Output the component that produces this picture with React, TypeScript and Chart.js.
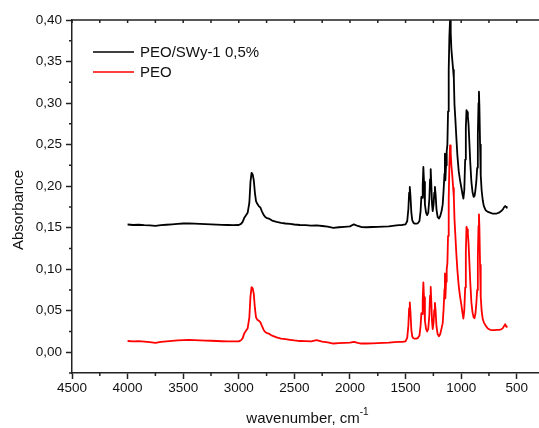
import React, { useEffect, useRef } from "react";
import { Chart, registerables } from "chart.js";

Chart.register(...registerables);

// ---- data ----
const wavenumbers: number[] = [
  4000, 3950, 3900, 3850, 3800, 3750, 3700, 3650, 3600, 3550,
  3500, 3450, 3400, 3350, 3300, 3250, 3200, 3150, 3100, 3050,
  3000,
  2980, 2965, 2950, 2935, 2920, 2905, 2895, 2885, 2875, 2865,
  2855, 2845, 2835, 2820, 2805, 2790, 2775, 2760, 2745, 2730,
  2715, 2700,
  2660, 2620, 2580, 2540, 2500, 2450, 2400, 2350, 2300, 2250,
  2200, 2150, 2100, 2050, 2000, 1965, 1930, 1900, 1850, 1800,
  1750, 1700, 1650, 1600, 1560,
  1530, 1500, 1485, 1475, 1468, 1462, 1456, 1448, 1440, 1430,
  1420, 1405, 1390, 1375, 1365, 1358, 1352, 1346, 1340, 1334,
  1326, 1316, 1306, 1296, 1286, 1280, 1274, 1268, 1262, 1256,
  1248, 1242, 1236, 1230, 1222, 1212, 1200, 1188, 1176, 1166,
  1158, 1150, 1146, 1142, 1136, 1130, 1124, 1118, 1112, 1106,
  1100, 1094, 1088, 1080, 1072, 1066, 1060, 1052, 1044, 1034,
  1022, 1010, 998, 988, 980, 972, 964, 958, 952, 946,
  940, 934, 926, 918, 908, 898, 888, 880, 872, 864,
  856, 850, 844, 840, 836, 830, 824, 816, 806, 796,
  780, 760, 740, 720, 700, 680, 660, 640, 625, 612,
  604, 596, 590,
];

const absPeoClay: number[] = [
  0.1538, 0.1532, 0.1535, 0.153, 0.1528, 0.1522, 0.153, 0.1535, 0.154, 0.1545,
  0.155, 0.1552, 0.1548, 0.1545, 0.1542, 0.154, 0.1536, 0.1533, 0.1532, 0.153,
  0.1532,
  0.1545, 0.157, 0.162, 0.165, 0.168, 0.18, 0.205, 0.216, 0.214, 0.207,
  0.192, 0.182, 0.179, 0.176, 0.174, 0.169, 0.165, 0.1625, 0.1615, 0.161,
  0.1598, 0.1585,
  0.157, 0.1558, 0.155, 0.1545, 0.1538, 0.1532, 0.153, 0.1525, 0.1528, 0.152,
  0.1512, 0.1498, 0.1505, 0.151, 0.1515, 0.154, 0.152, 0.1508, 0.1505, 0.1508,
  0.151, 0.1512, 0.1515, 0.1525, 0.153,
  0.1532, 0.154, 0.158, 0.172, 0.192, 0.199, 0.188, 0.168, 0.159, 0.156,
  0.155, 0.1548, 0.1552, 0.158, 0.17, 0.187, 0.186, 0.2, 0.223, 0.205,
  0.178, 0.168, 0.165, 0.168, 0.185, 0.208, 0.2205, 0.2, 0.178, 0.17,
  0.178, 0.192, 0.199, 0.19, 0.172, 0.163, 0.161, 0.164, 0.17, 0.178,
  0.195, 0.215, 0.239, 0.207, 0.225, 0.242, 0.25, 0.29, 0.34, 0.38,
  0.4, 0.385, 0.365, 0.352, 0.34, 0.33, 0.298, 0.28, 0.26, 0.237,
  0.218, 0.207, 0.198, 0.19, 0.185, 0.195, 0.232, 0.27, 0.2916, 0.289,
  0.284, 0.275, 0.252, 0.228, 0.205, 0.193, 0.187, 0.188, 0.195, 0.205,
  0.222, 0.262, 0.3, 0.3136, 0.296, 0.25, 0.213, 0.195, 0.183, 0.176,
  0.171, 0.169, 0.168, 0.167, 0.167, 0.167, 0.168, 0.17, 0.172, 0.175,
  0.176, 0.175, 0.174,
];

const absPeo: number[] = [
  0.0135, 0.013, 0.0133, 0.0128, 0.0122, 0.0112, 0.0125, 0.013, 0.0136, 0.0142,
  0.0147, 0.015, 0.0146, 0.0143, 0.014, 0.0138, 0.0135, 0.0132, 0.013, 0.013,
  0.0131,
  0.0145, 0.017, 0.023, 0.026, 0.029, 0.042, 0.067, 0.0785, 0.077, 0.07,
  0.053, 0.042, 0.0395, 0.038, 0.036, 0.031, 0.0265, 0.024, 0.023, 0.0225,
  0.021, 0.02,
  0.0178, 0.0165, 0.0158, 0.015, 0.0142, 0.0135, 0.0133, 0.013, 0.0145, 0.0128,
  0.0118, 0.0105, 0.011, 0.0112, 0.0115, 0.0125, 0.0112, 0.0105, 0.0105, 0.0107,
  0.011, 0.0112, 0.0115, 0.0122, 0.0124,
  0.0125, 0.013, 0.0175, 0.032, 0.053, 0.06, 0.048, 0.027, 0.019, 0.0168,
  0.0163, 0.0163, 0.017, 0.02, 0.032, 0.047, 0.046, 0.062, 0.084, 0.066,
  0.038, 0.028, 0.025, 0.028, 0.045, 0.068, 0.0787, 0.059, 0.037, 0.028,
  0.036, 0.051, 0.0594, 0.05, 0.031, 0.022, 0.0193, 0.022, 0.029, 0.035,
  0.052, 0.076, 0.0948, 0.065, 0.085, 0.1, 0.107, 0.14, 0.185, 0.225,
  0.249, 0.24, 0.225, 0.213, 0.198, 0.187, 0.16, 0.14, 0.12, 0.0988,
  0.08, 0.067, 0.057, 0.047, 0.0406, 0.05, 0.078, 0.12, 0.151, 0.148,
  0.143, 0.132, 0.108, 0.084, 0.06, 0.048, 0.042, 0.041, 0.046, 0.058,
  0.075, 0.115, 0.152, 0.166, 0.15, 0.105, 0.0667, 0.05, 0.04, 0.036,
  0.032, 0.0285, 0.027, 0.0265, 0.0265, 0.027, 0.027, 0.0275, 0.029, 0.032,
  0.0337, 0.031, 0.0305,
];

const seriesLabels: string[] = ["PEO/SWy-1 0,5%", "PEO"];
const seriesColors: string[] = ["#000000", "#ff0000"];

const xMajorTicks: number[] = [500, 1000, 1500, 2000, 2500, 3000, 3500, 4000, 4500];
const xMinorTicks: number[] = [750, 1250, 1750, 2250, 2750, 3250, 3750, 4250];
const yMajorTicks: number[] = [0, 0.05, 0.1, 0.15, 0.2, 0.25, 0.3, 0.35, 0.4];
const yMinorTicks: number[] = [-0.025, 0.025, 0.075, 0.125, 0.175, 0.225, 0.275, 0.325, 0.375];

const X_MIN = 300;
const X_MAX = 4500;
const Y_MIN = -0.025;
const Y_MAX = 0.4;

const FONT = "'Liberation Sans', Arial, Helvetica, sans-serif";
const AXIS = "#222222";

const overlay = {
  id: "overlay",
  afterDraw(chart: any) {
    const { ctx, chartArea: a, scales } = chart;
    const x = scales.x;
    const y = scales.y;
    ctx.save();
    ctx.strokeStyle = AXIS;
    ctx.lineWidth = 1.5;
    ctx.beginPath();
    // top frame
    ctx.moveTo(a.left, a.top);
    ctx.lineTo(a.right, a.top);
    // minor ticks bottom
    for (const v of xMinorTicks) {
      const px = x.getPixelForValue(v);
      ctx.moveTo(px, a.bottom);
      ctx.lineTo(px, a.bottom + 3);
    }
    // top ticks (inward)
    for (const v of [...xMajorTicks, ...xMinorTicks]) {
      const px = x.getPixelForValue(v);
      ctx.moveTo(px, a.top);
      ctx.lineTo(px, a.top + 3);
    }
    // minor ticks left
    for (const v of yMinorTicks) {
      const py = y.getPixelForValue(v);
      ctx.moveTo(a.left, py);
      ctx.lineTo(a.left - 3, py);
    }
    ctx.stroke();

    // legend
    ctx.font = `15px ${FONT}`;
    ctx.textBaseline = "middle";
    ctx.textAlign = "left";
    chart.data.datasets.forEach((ds: any, i: number) => {
      const ly = 52 + i * 20;
      ctx.strokeStyle = ds.borderColor;
      ctx.lineWidth = 1.6;
      ctx.beginPath();
      ctx.moveTo(93, ly);
      ctx.lineTo(134, ly);
      ctx.stroke();
      ctx.fillStyle = "#111";
      ctx.fillText(ds.label, 140, ly + 1);
    });

    // x title with superscript
    ctx.fillStyle = "#111";
    ctx.textBaseline = "alphabetic";
    const main = "wavenumber, cm";
    const sup = "-1";
    ctx.font = `15px ${FONT}`;
    const w1 = ctx.measureText(main).width;
    ctx.font = `10px ${FONT}`;
    const w2 = ctx.measureText(sup).width;
    const cx = (a.left + a.right) / 2 + 2;
    const sx = cx - (w1 + w2) / 2;
    ctx.font = `15px ${FONT}`;
    ctx.fillText(main, sx, 423);
    ctx.font = `10px ${FONT}`;
    ctx.fillText(sup, sx + w1, 415);

    // y title
    ctx.save();
    ctx.translate(19, 210);
    ctx.rotate(-Math.PI / 2);
    ctx.font = `15px ${FONT}`;
    ctx.textAlign = "center";
    ctx.textBaseline = "middle";
    ctx.fillText("Absorbance", 0, 0);
    ctx.restore();

    ctx.restore();
  },
};

export default function App() {
  const ref = useRef<HTMLCanvasElement | null>(null);

  useEffect(() => {
    if (!ref.current) return;
    const toPoints = (vals: number[]) => wavenumbers.map((w, i) => ({ x: w, y: vals[i] }));
    const chart = new Chart(ref.current, {
      type: "line",
      data: {
        datasets: [
          {
            label: seriesLabels[0],
            data: toPoints(absPeoClay),
            borderColor: seriesColors[0],
            borderWidth: 1.8,
            pointRadius: 0,
            tension: 0,
            borderJoinStyle: "round",
            order: 2,
          },
          {
            label: seriesLabels[1],
            data: toPoints(absPeo),
            borderColor: seriesColors[1],
            borderWidth: 1.8,
            pointRadius: 0,
            tension: 0,
            borderJoinStyle: "round",
            order: 1,
          },
        ],
      },
      options: {
        animation: false,
        responsive: false,
        devicePixelRatio: 1,
        layout: { padding: { top: 20, right: 0, left: 0, bottom: 0 } },
        plugins: {
          legend: { display: false },
          tooltip: { enabled: false },
          title: { display: false },
        },
        scales: {
          x: {
            type: "linear",
            reverse: true,
            min: X_MIN,
            max: X_MAX,
            afterBuildTicks: (axis: any) => {
              axis.ticks = xMajorTicks.map((v) => ({ value: v }));
            },
            afterFit: (scale: any) => {
              scale.height = 55;
            },
            grid: {
              display: true,
              drawOnChartArea: false,
              drawTicks: true,
              tickLength: 6,
              tickColor: AXIS,
              tickWidth: 1.5,
            },
            border: { display: true, color: AXIS, width: 1.5 },
            ticks: {
              autoSkip: false,
              maxRotation: 0,
              padding: 1,
              color: "#111",
              font: { family: FONT, size: 13.5 },
              callback: (v: any) => String(v),
            },
          },
          y: {
            type: "linear",
            min: Y_MIN,
            max: Y_MAX,
            afterBuildTicks: (axis: any) => {
              axis.ticks = yMajorTicks.map((v) => ({ value: v }));
            },
            afterFit: (scale: any) => {
              scale.width = 72;
            },
            grid: {
              display: true,
              drawOnChartArea: false,
              drawTicks: true,
              tickLength: 6,
              tickColor: AXIS,
              tickWidth: 1.5,
            },
            border: { display: true, color: AXIS, width: 1.5 },
            ticks: {
              autoSkip: false,
              padding: 4,
              color: "#111",
              font: { family: FONT, size: 13.5 },
              callback: (v: any) => Number(v).toFixed(2).replace(".", ","),
            },
          },
        },
      },
      plugins: [overlay],
    });
    return () => chart.destroy();
  }, []);

  return (
    <div style={{ position: "absolute", left: 0, top: 0, width: 539, height: 428, background: "#fff" }}>
      <canvas ref={ref} width={539} height={428} style={{ display: "block", width: 539, height: 428 }} />
    </div>
  );
}
